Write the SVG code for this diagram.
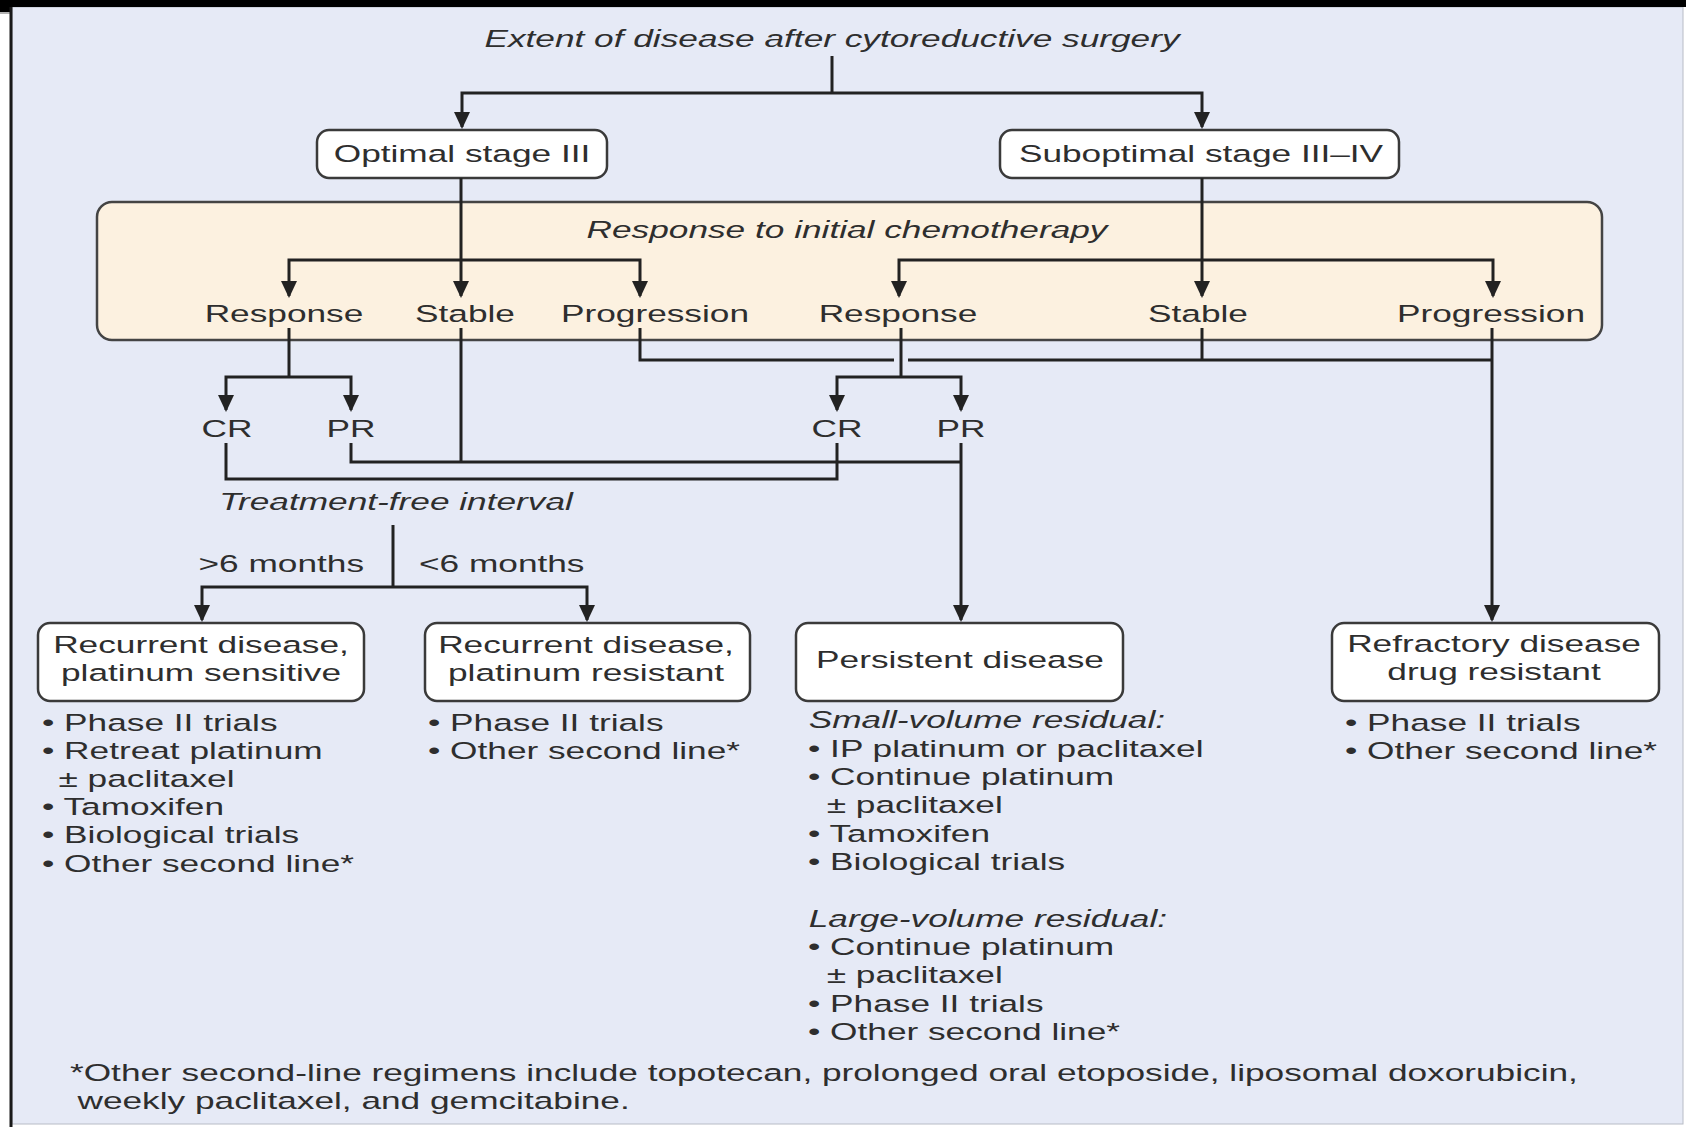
<svg xmlns="http://www.w3.org/2000/svg" width="1686" height="1127" viewBox="0 0 1686 1127">
<defs>
<style>
.t{font-family:"Liberation Sans",Arial,Helvetica,sans-serif;font-size:23.5px;fill:#2e2e2e}
.i{font-style:italic}
.m{text-anchor:middle}
.e{text-anchor:end}
.box{fill:#ffffff;stroke:#3a3a3a;stroke-width:2.5}
.ln{fill:none;stroke:#222;stroke-width:3}
.ar{fill:none;stroke:#222;stroke-width:3;marker-end:url(#ah)}
</style>
<marker id="ah" viewBox="0 0 17 16" markerWidth="17" markerHeight="16" refX="15" refY="8" orient="auto" markerUnits="userSpaceOnUse">
<path d="M0,0 L17,8 L0,16 z" fill="#222"/>
</marker>
</defs>

<!-- frame / background -->
<rect x="0" y="0" width="1686" height="1127" fill="#ffffff"/>
<rect x="12" y="7" width="1671" height="1117" fill="#E6EAF6" stroke="#b8bcc6" stroke-width="1"/>
<rect x="0" y="0" width="1686" height="7" fill="#000"/>
<rect x="0" y="0" width="11" height="12" fill="#000"/>
<line x1="0" y1="13" x2="11" y2="13" stroke="#999" stroke-width="1.5"/>
<line x1="11" y1="7" x2="11" y2="1127" stroke="#1a1a1a" stroke-width="3"/>

<g id="title">
<text class="t i m" transform="matrix(1.5 0 0 1 832 0)" x="0" y="47">Extent of disease after cytoreductive surgery</text>
</g>

<g id="optimal">
<rect class="box" x="317" y="130" width="290" height="48" rx="12"/>
<text class="t m" transform="matrix(1.5 0 0 1 462 0)" x="0" y="162">Optimal stage III</text>
</g>

<g id="suboptimal">
<rect class="box" x="1000" y="130" width="399" height="48" rx="12"/>
<text class="t m" transform="matrix(1.5 0 0 1 1201 0)" x="0" y="162">Suboptimal stage III–IV</text>
</g>

<g id="response-panel">
<rect x="97" y="202" width="1505" height="138" rx="15" fill="#FCF1E0" stroke="#444" stroke-width="2.5"/>
<text class="t i m" transform="matrix(1.5 0 0 1 847 0)" x="0" y="238">Response to initial chemotherapy</text>
</g>

<g id="response-left"><text class="t m" transform="matrix(1.5 0 0 1 284 0)" x="0" y="322">Response</text></g>
<g id="stable-left"><text class="t m" transform="matrix(1.5 0 0 1 465 0)" x="0" y="322">Stable</text></g>
<g id="progression-left"><text class="t m" transform="matrix(1.5 0 0 1 655 0)" x="0" y="322">Progression</text></g>
<g id="response-right"><text class="t m" transform="matrix(1.5 0 0 1 898 0)" x="0" y="322">Response</text></g>
<g id="stable-right"><text class="t m" transform="matrix(1.5 0 0 1 1198 0)" x="0" y="322">Stable</text></g>
<g id="progression-right"><text class="t m" transform="matrix(1.5 0 0 1 1491 0)" x="0" y="322">Progression</text></g>

<g id="cr-left"><text class="t m" transform="matrix(1.5 0 0 1 227 0)" x="0" y="437">CR</text></g>
<g id="pr-left"><text class="t m" transform="matrix(1.5 0 0 1 351 0)" x="0" y="437">PR</text></g>
<g id="cr-right"><text class="t m" transform="matrix(1.5 0 0 1 837 0)" x="0" y="437">CR</text></g>
<g id="pr-right"><text class="t m" transform="matrix(1.5 0 0 1 961 0)" x="0" y="437">PR</text></g>

<g id="treatment-free-interval">
<text class="t i m" transform="matrix(1.5 0 0 1 396 0)" x="0" y="510">Treatment-free interval</text>
<text class="t e" transform="matrix(1.5 0 0 1 364 0)" x="0" y="572">&gt;6 months</text>
<text class="t" transform="matrix(1.5 0 0 1 419 0)" x="0" y="572">&lt;6 months</text>
</g>

<g id="recurrent-sensitive">
<rect class="box" x="38" y="623" width="326" height="78" rx="12"/>
<text class="t m" transform="matrix(1.5 0 0 1 201 0)"><tspan x="0" y="653">Recurrent disease,</tspan><tspan x="0" y="681">platinum sensitive</tspan></text>
<text class="t" transform="matrix(1.5 0 0 1 42 0)"><tspan x="0" y="731">• Phase II trials</tspan><tspan x="0" y="759">• Retreat platinum</tspan><tspan x="11" y="787">± paclitaxel</tspan><tspan x="0" y="815">• Tamoxifen</tspan><tspan x="0" y="843">• Biological trials</tspan><tspan x="0" y="872">• Other second line*</tspan></text>
</g>

<g id="recurrent-resistant">
<rect class="box" x="425" y="623" width="325" height="78" rx="12"/>
<text class="t m" transform="matrix(1.5 0 0 1 586 0)"><tspan x="0" y="653">Recurrent disease,</tspan><tspan x="0" y="681">platinum resistant</tspan></text>
<text class="t" transform="matrix(1.5 0 0 1 428 0)"><tspan x="0" y="731">• Phase II trials</tspan><tspan x="0" y="759">• Other second line*</tspan></text>
</g>

<g id="persistent">
<rect class="box" x="796" y="623" width="327" height="78" rx="12"/>
<text class="t m" transform="matrix(1.5 0 0 1 960 0)" x="0" y="668">Persistent disease</text>
<text class="t" transform="matrix(1.5 0 0 1 808 0)"><tspan class="i" x="0.5" y="728">Small-volume residual:</tspan><tspan x="0" y="757">• IP platinum or paclitaxel</tspan><tspan x="0" y="785">• Continue platinum</tspan><tspan x="12.5" y="813">± paclitaxel</tspan><tspan x="0" y="842">• Tamoxifen</tspan><tspan x="0" y="870">• Biological trials</tspan><tspan class="i" x="0.5" y="927">Large-volume residual:</tspan><tspan x="0" y="955">• Continue platinum</tspan><tspan x="12.5" y="983">± paclitaxel</tspan><tspan x="0" y="1012">• Phase II trials</tspan><tspan x="0" y="1040">• Other second line*</tspan></text>
</g>

<g id="refractory">
<rect class="box" x="1332" y="623" width="327" height="78" rx="12"/>
<text class="t m" transform="matrix(1.5 0 0 1 1494 0)"><tspan x="0" y="652">Refractory disease</tspan><tspan x="0" y="680">drug resistant</tspan></text>
<text class="t" transform="matrix(1.5 0 0 1 1345 0)"><tspan x="0" y="731">• Phase II trials</tspan><tspan x="0" y="759">• Other second line*</tspan></text>
</g>

<g id="footnote">
<text class="t" transform="matrix(1.5 0 0 1 70 0)"><tspan x="0" y="1081">*Other second-line regimens include topotecan, prolonged oral etoposide, liposomal doxorubicin,</tspan><tspan x="5" y="1109">weekly paclitaxel, and gemcitabine.</tspan></text>
</g>

<g id="connectors">
<path class="ln" d="M832,56 V93"/>
<path class="ar" d="M832,93 H462 V127"/>
<path class="ar" d="M832,93 H1202 V127"/>

<path class="ar" d="M461,178 V296"/>
<path class="ar" d="M461,260 H289 V296"/>
<path class="ar" d="M461,260 H640 V296"/>

<path class="ar" d="M1202,178 V296"/>
<path class="ar" d="M1202,260 H899 V296"/>
<path class="ar" d="M1202,260 H1493 V296"/>

<path class="ln" d="M289,328 V377"/>
<path class="ar" d="M289,377 H226 V410"/>
<path class="ar" d="M289,377 H351 V410"/>

<path class="ln" d="M901,328 V377"/>
<path class="ar" d="M901,377 H837 V410"/>
<path class="ar" d="M901,377 H961 V410"/>

<path class="ln" d="M461,328 V462"/>
<path class="ln" d="M640,328 V360 H894"/>
<path class="ln" d="M908,360 H1493"/>
<path class="ln" d="M1202,328 V360"/>
<path class="ar" d="M1492,328 V620"/>

<path class="ln" d="M226,443 V479 H837 V443"/>
<path class="ln" d="M351,443 V462 H961"/>
<path class="ar" d="M961,443 V620"/>

<path class="ln" d="M393,525 V587"/>
<path class="ar" d="M393,587 H202 V620"/>
<path class="ar" d="M393,587 H587 V620"/>
</g>
</svg>
